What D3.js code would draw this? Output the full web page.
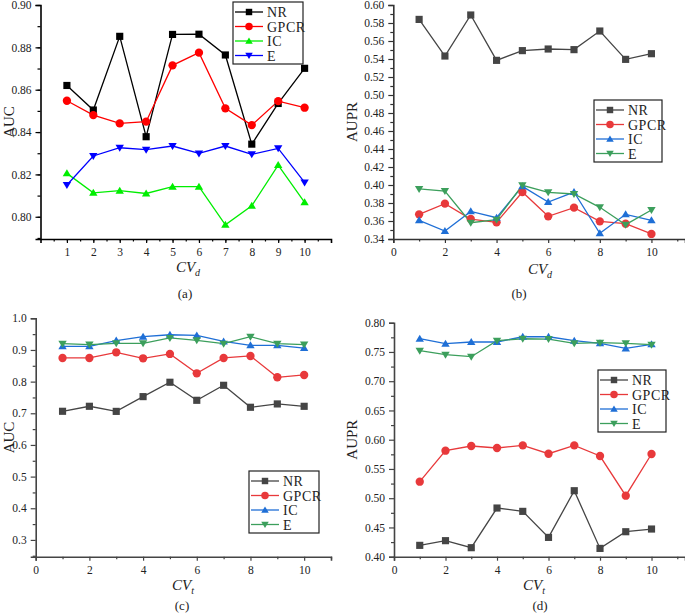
<!DOCTYPE html>
<html>
<head>
<meta charset="utf-8">
<script src="https://cdn.jsdelivr.net/npm/d3@7"></script>
<style>
  body { margin: 0; background: #fff; }
  svg { font-family: "Liberation Serif", "DejaVu Serif", serif; }
</style>
</head>
<body>
<div id="chart"></div>
<script>
// DATA
const series = ["NR", "GPCR", "IC", "E"];
const folds = [1, 2, 3, 4, 5, 6, 7, 8, 9, 10];

const aucCvd = {
    NR:   [0.862, 0.8504, 0.8852, 0.8378, 0.8861, 0.8862, 0.8764, 0.8343, 0.8535, 0.8701],
    GPCR: [0.8548, 0.848, 0.8441, 0.8449, 0.8715, 0.8775, 0.8512, 0.8433, 0.8546, 0.8515],
    IC:   [0.8205, 0.8113, 0.8123, 0.811, 0.8142, 0.8142, 0.7962, 0.8052, 0.8244, 0.8068],
    E:    [0.815, 0.8287, 0.8326, 0.8317, 0.8334, 0.8299, 0.8334, 0.8295, 0.8323, 0.8162]
};
const auprCvd = {
    NR:   [0.584, 0.5433, 0.5889, 0.5385, 0.5493, 0.5511, 0.5504, 0.5711, 0.5396, 0.5459],
    GPCR: [0.3674, 0.3793, 0.3622, 0.3585, 0.3922, 0.3652, 0.3748, 0.3596, 0.357, 0.3456],
    IC:   [0.3607, 0.3489, 0.3707, 0.3637, 0.3985, 0.3811, 0.3922, 0.3463, 0.3674, 0.3607],
    E:    [0.3956, 0.3933, 0.3581, 0.3615, 0.3996, 0.3919, 0.39, 0.3752, 0.3559, 0.3722]
};
const aucCvt = {
    NR:   [0.7063, 0.7221, 0.706, 0.7526, 0.798, 0.741, 0.7884, 0.719, 0.7295, 0.722],
    GPCR: [0.8747, 0.8747, 0.8926, 0.8737, 0.8874, 0.8263, 0.8747, 0.881, 0.8137, 0.821],
    IC:   [0.9116, 0.9116, 0.9295, 0.942, 0.948, 0.946, 0.927, 0.9147, 0.9147, 0.906],
    E:    [0.92, 0.917, 0.921, 0.921, 0.938, 0.9305, 0.92, 0.942, 0.92, 0.917]
};
const auprCvt = {
    NR:   [0.4194, 0.4274, 0.4154, 0.4832, 0.4775, 0.433, 0.5128, 0.4142, 0.4427, 0.4473],
    GPCR: [0.5282, 0.5812, 0.5892, 0.5858, 0.5903, 0.576, 0.5903, 0.5721, 0.5043, 0.5755],
    IC:   [0.7726, 0.7641, 0.767, 0.767, 0.776, 0.776, 0.7692, 0.7647, 0.7561, 0.763],
    E:    [0.7521, 0.7453, 0.7419, 0.7692, 0.7726, 0.772, 0.7647, 0.7658, 0.7647, 0.7624]
};

// tick values
const ticksA = { x: folds, xMinor: d3.range(0.5, 11, 0.5), y: [0.80, 0.82, 0.84, 0.86, 0.88, 0.90], yMinor: d3.range(0.79, 0.905, 0.01) };
const ticksB = { x: [0, 2, 4, 6, 8, 10], xMinor: [1, 3, 5, 7, 9, 11], y: d3.range(0.34, 0.605, 0.02), yMinor: d3.range(0.35, 0.60, 0.02) };
const ticksC = { x: [0, 2, 4, 6, 8, 10], xMinor: [1, 3, 5, 7, 9, 11], y: [0.3, 0.4, 0.5, 0.6, 0.7, 0.8, 0.9, 1.0], yMinor: d3.range(0.25, 1.0, 0.1) };
const ticksD = { x: [0, 2, 4, 6, 8, 10], xMinor: [1, 3, 5, 7, 9, 11], y: [0.40, 0.45, 0.50, 0.55, 0.60, 0.65, 0.70, 0.75, 0.80], yMinor: d3.range(0.425, 0.80, 0.05) };

const brightColors = { NR: "#000000", GPCR: "#ff0000", IC: "#00ee00", E: "#0000ff" };
const softColors = { NR: "#454545", GPCR: "#e8393b", IC: "#1f6fd6", E: "#3c9f5c" };
const markers = { NR: d3.symbolSquare, GPCR: d3.symbolCircle, IC: "up", E: "down" };

const svg = d3.select('#chart').append('svg')
    .attr('width', 685)
    .attr('height', 614);

function symbolPath(kind, size) {
    if (kind === "up") {
        const r = size;
        return `M0,${-r} L${r * 1.05},${r * 0.75} L${-r * 1.05},${r * 0.75}Z`;
    }
    if (kind === "down") {
        const r = size;
        return `M0,${r} L${r * 1.05},${-r * 0.75} L${-r * 1.05},${-r * 0.75}Z`;
    }
    if (kind === d3.symbolSquare) return d3.symbol().type(kind).size(size * size * 3.2)();
    return d3.symbol().type(kind).size(size * size * 3.4)();
}

function drawPanel(opt) {
    const g = svg.append('g');
    const x = d3.scaleLinear().domain(opt.xDomain).range([opt.left, opt.right]);
    const y = d3.scaleLinear().domain(opt.yDomain).range([opt.bottom, opt.top]);
    const axisColor = opt.axisColor;

    // y axis
    const yAxis = d3.axisLeft(y).tickValues(opt.ticks.y).tickSize(5).tickFormat(d3.format(opt.yFormat));
    const ya = g.append('g').attr('transform', `translate(${opt.left},0)`).call(yAxis);
    g.append('g').attr('transform', `translate(${opt.left},0)`)
        .call(d3.axisLeft(y).tickValues(opt.ticks.yMinor).tickSize(3).tickFormat(''))
        .select('.domain').remove();

    // x axis
    const xAxis = d3.axisBottom(x).tickValues(opt.ticks.x).tickSize(4).tickFormat(d3.format('d'));
    const xa = g.append('g').attr('transform', `translate(0,${opt.bottom})`).call(xAxis);
    g.append('g').attr('transform', `translate(0,${opt.bottom})`)
        .call(d3.axisBottom(x).tickValues(opt.ticks.xMinor).tickSize(2.5).tickFormat(''))
        .select('.domain').remove();

    g.selectAll('.domain').attr('stroke', axisColor).attr('stroke-width', 1.6);
    g.selectAll('.tick line').attr('stroke', axisColor).attr('stroke-width', 1.2);
    g.selectAll('g').attr('font-family', null);
    g.selectAll('.tick text')
        .attr('font-size', 11.5)
        .attr('fill', '#222')
        .style('font-family', '"Liberation Serif", serif');
    ya.selectAll('.tick text').attr('dx', '-1');
    xa.selectAll('.tick text').attr('dy', '0.9em');

    // y title
    g.append('text')
        .attr('transform', `translate(${opt.yTitleX},${(opt.top + opt.bottom) / 2}) rotate(-90)`)
        .attr('text-anchor', 'middle')
        .attr('font-size', 15)
        .attr('fill', '#222')
        .text(opt.yTitle);

    // x title with subscript
    const xt = g.append('text')
        .attr('x', opt.xTitleX)
        .attr('y', opt.xTitleY)
        .attr('text-anchor', 'middle')
        .attr('font-size', 15)
        .attr('font-style', 'italic')
        .attr('fill', '#222');
    xt.append('tspan').text('CV');
    xt.append('tspan').attr('font-size', 10).attr('dy', 4).text(opt.sub);

    g.append('text')
        .attr('x', opt.capX)
        .attr('y', opt.capY)
        .attr('text-anchor', 'middle')
        .attr('font-size', 13)
        .attr('fill', '#222')
        .text(opt.caption);

    // lines
    const line = d3.line().x((d, i) => x(folds[i])).y(d => y(d));
    series.forEach(function (s) {
        g.append('path')
            .attr('d', line(opt.data[s]))
            .attr('fill', 'none')
            .attr('stroke', opt.colors[s])
            .attr('stroke-width', 1.3);
    });
    series.forEach(function (s) {
        g.selectAll(null)
            .data(opt.data[s])
            .enter()
            .append('path')
            .attr('transform', (d, i) => `translate(${x(folds[i])},${y(d)})`)
            .attr('d', symbolPath(markers[s], 4))
            .attr('fill', opt.colors[s]);
    });

    // legend
    const lg = g.append('g').attr('transform', `translate(${opt.legend[0]},${opt.legend[1]})`);
    lg.append('rect')
        .attr('width', opt.legend[2])
        .attr('height', 62)
        .attr('fill', '#fff')
        .attr('stroke', '#222')
        .attr('stroke-width', 1.2);
    series.forEach(function (s, i) {
        const row = lg.append('g').attr('transform', `translate(0,${10 + i * 14.5})`);
        row.append('line')
            .attr('x1', 2).attr('x2', 30)
            .attr('stroke', opt.colors[s])
            .attr('stroke-width', 1.3);
        row.append('path')
            .attr('transform', 'translate(16,0)')
            .attr('d', symbolPath(markers[s], 3.6))
            .attr('fill', opt.colors[s]);
        row.append('text')
            .attr('x', 34)
            .attr('y', 5)
            .attr('font-size', 14)
            .attr('letter-spacing', 0.5)
            .attr('fill', '#222')
            .text(s);
    });
}

drawPanel({
    data: aucCvd, colors: brightColors, axisColor: '#000', ticks: ticksA,
    xDomain: [0, 11], yDomain: [0.7895, 0.90],
    left: 40.5, right: 331, top: 5, bottom: 239,
    yFormat: '.2f', yTitle: 'AUC', yTitleX: 14, sub: 'd',
    xTitleX: 188, xTitleY: 272, caption: '(a)', capX: 185, capY: 298,
    legend: [233, 2, 70]
});
drawPanel({
    data: auprCvd, colors: softColors, axisColor: '#333', ticks: ticksB,
    xDomain: [0, 11.3], yDomain: [0.34, 0.60],
    left: 393.3, right: 685, top: 5, bottom: 239,
    yFormat: '.2f', yTitle: 'AUPR', yTitleX: 357, sub: 'd',
    xTitleX: 540, xTitleY: 274, caption: '(b)', capX: 519, capY: 298,
    legend: [594, 100, 68]
});
drawPanel({
    data: aucCvt, colors: softColors, axisColor: '#444', ticks: ticksC,
    xDomain: [0, 11], yDomain: [0.247, 1.0],
    left: 35.7, right: 331, top: 318.3, bottom: 556.7,
    yFormat: '.1f', yTitle: 'AUC', yTitleX: 14, sub: 't',
    xTitleX: 183, xTitleY: 590, caption: '(c)', capX: 182, capY: 610,
    legend: [249, 471, 70]
});
drawPanel({
    data: auprCvt, colors: softColors, axisColor: '#444', ticks: ticksD,
    xDomain: [0, 11.3], yDomain: [0.40, 0.80],
    left: 394, right: 685, top: 322.7, bottom: 556.7,
    yFormat: '.2f', yTitle: 'AUPR', yTitleX: 357, sub: 't',
    xTitleX: 534, xTitleY: 590, caption: '(d)', capX: 540, capY: 610,
    legend: [598, 370, 68]
});
</script>
</body>
</html>
